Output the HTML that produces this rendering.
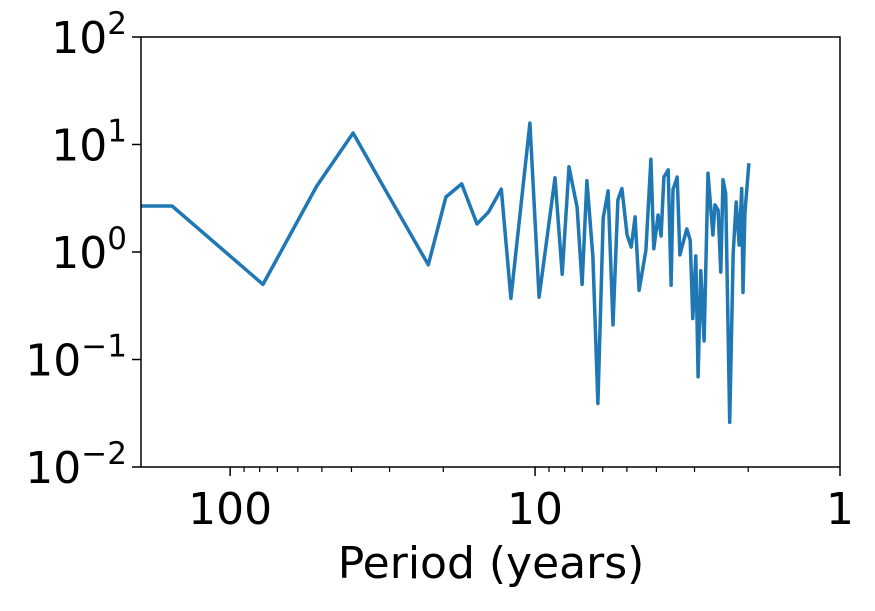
<!DOCTYPE html>
<html><head><meta charset="utf-8"><style>
body{margin:0;background:#fff}
svg text{font-family:"DejaVu Sans","Liberation Sans",sans-serif;fill:#000}
</style></head><body>
<svg id="chart" width="875" height="606" xmlns="http://www.w3.org/2000/svg">
<defs><clipPath id="clip"><rect x="141" y="37" width="699" height="430"/></clipPath></defs>
<rect x="141" y="37" width="699" height="430" fill="#fff"/>
<g id="ticks"></g>
<path id="series" clip-path="url(#clip)" fill="none" stroke="#1f77b4" stroke-width="3.5" stroke-linejoin="round"/>
<rect x="141" y="37" width="699" height="430" fill="none" stroke="#000" stroke-width="1.5"/>
<text x="491" y="578" font-size="44" text-anchor="middle">Period (years)</text>
</svg>
<script>
const periods = [196,155,78,52,39.5,31,22.4,19.6,17.4,15.5,14.2,12.9,12.0,10.4,9.7,8.6,8.15,7.74,7.28,7.01,6.76,6.46,6.22,5.98,5.76,5.55,5.35,5.19,4.99,4.84,4.70,4.56,4.33,4.17,4.08,3.95,3.86,3.78,3.66,3.58,3.53,3.42,3.35,3.18,3.10,3.04,2.97,2.92,2.86,2.79,2.71,2.61,2.57,2.51,2.46,2.42,2.37,2.30,2.24,2.19,2.14,2.10,2.08,2.05,1.99];
const power = [2.68,2.68,0.50,4.1,12.8,3.8,0.76,3.25,4.3,1.82,2.36,3.85,0.37,15.8,0.38,4.9,0.62,6.2,2.6,0.50,4.6,0.90,0.039,2.07,3.7,0.21,3.05,3.9,1.44,1.11,2.12,0.44,1.04,7.3,1.07,2.21,1.41,4.99,5.8,0.49,3.8,4.99,0.94,1.64,1.29,0.24,0.92,0.069,0.67,0.149,5.4,1.44,2.74,2.46,0.65,4.7,3.5,0.026,0.98,2.92,1.16,3.9,0.42,2.3,6.7];
const xTickValues = [100,10,1];
const xTickLabels = ["100","10","1"];
const yTickExps = [2,1,0,-1,-2];

const X0=141,X1=840,Y0=37,Y1=467;
const xMinLog=Math.log10(196), xMaxLog=0;
function xs(p){return X0+(xMinLog-Math.log10(p))/(xMinLog-xMaxLog)*(X1-X0);}
function ys(v){return Y1-(Math.log10(v)+2)/4*(Y1-Y0);}

const NS="http://www.w3.org/2000/svg";
const g=document.getElementById('ticks');
function mk(tag,attrs){const e=document.createElementNS(NS,tag);for(const k in attrs)e.setAttribute(k,attrs[k]);return e;}

xTickValues.forEach((v,i)=>{
  const x=xs(v);
  const t=mk('line',{x1:x,x2:x,y1:Y1,y2:Y1+9,stroke:'#000','stroke-width':1.5});
  
  
  g.appendChild(t);
  const l=mk('text',{x:x,y:Y1+57,'font-size':44,'text-anchor':'middle'});
  l.textContent=xTickLabels[i];
  
  
  g.appendChild(l);
});
[100,10,1].forEach(d=>{for(let m=2;m<=9;m++){const v=d*m;if(v>196)continue;const x=xs(v);if(x<X0||x>X1)continue;
  const t=mk('line',{x1:x,x2:x,y1:Y1,y2:Y1+5,stroke:'#000','stroke-width':1.2});
  
  
  g.appendChild(t);}});
yTickExps.forEach(e=>{
  const y=ys(Math.pow(10,e));
  const t=mk('line',{x1:X0-9,x2:X0,y1:y,y2:y,stroke:'#000','stroke-width':1.5});
  
  
  g.appendChild(t);
  const l=mk('text',{x:X0-14,y:y+16,'font-size':44,'text-anchor':'end'});
  const b=mk('tspan',{});b.textContent='10';
  const s=mk('tspan',{dy:-19,'font-size':31});s.textContent=e<0?'\u2212'+(-e):String(e);
  l.appendChild(b);l.appendChild(s);
  
  
  g.appendChild(l);
});
let d='';
periods.forEach((p,i)=>{d+=(i?'L':'M')+xs(p).toFixed(1)+' '+ys(power[i]).toFixed(1);});
document.getElementById('series').setAttribute('d',d);
</script>
</body></html>
